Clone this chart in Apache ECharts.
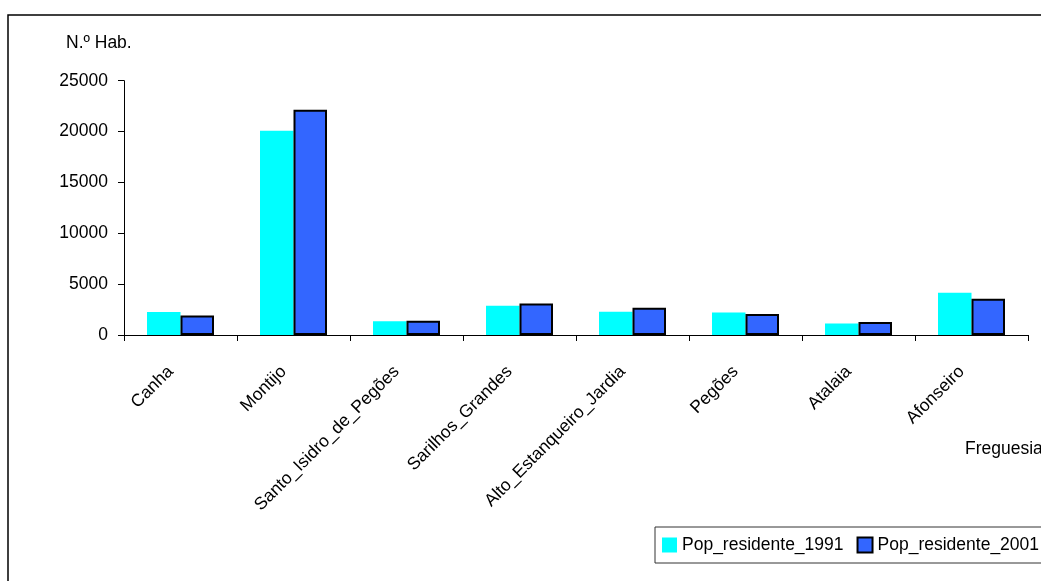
<!DOCTYPE html>
<html>
<head>
<meta charset="utf-8">
<script src="https://cdn.jsdelivr.net/npm/echarts@6/dist/echarts.min.js"></script>
<style>
  html, body { margin: 0; padding: 0; background: #fff; }
  #chart { width: 1041px; height: 581px; }
</style>
</head>
<body>
<div id="chart"></div>
<script>
// Parishes (freguesias) and resident population in 1991 and 2001
const freguesias = ['Canha', 'Montijo', 'Santo_Isidro_de_Pegões', 'Sarilhos_Grandes',
  'Alto_Estanqueiro_Jardia', 'Pegões', 'Atalaia', 'Afonseiro'];
const pop1991 = [2260, 20090, 1340, 2880, 2290, 2220, 1140, 4160];
const pop2001 = [1910, 22150, 1400, 3100, 2680, 2070, 1290, 3560];
const seriesNames = ['Pop_residente_1991', 'Pop_residente_2001'];
const yTitle = 'N.º Hab.';
const xTitle = 'Freguesia';

const FONT = 'Liberation Sans, Arial, sans-serif';
const FS = 17.5;

const chart = echarts.init(document.getElementById('chart'), null, { renderer: 'canvas' });

chart.setOption({
  animation: false,
  backgroundColor: '#fff',
  textStyle: { fontFamily: FONT, color: '#000' },
  grid: { left: 124, right: 13, top: 80.7, bottom: 246, containLabel: false },
  graphic: [
    {
      type: 'rect', silent: true, z: -1,
      shape: { x: 8, y: 15, width: 1200, height: 800 },
      style: { fill: 'none', stroke: '#000', lineWidth: 1.5 }
    },
    {
      type: 'text', left: 66, top: 34,
      style: { text: yTitle, font: FS + 'px ' + FONT, fill: '#000' }
    },
    {
      type: 'text', left: 965, top: 440,
      style: { text: xTitle, font: FS + 'px ' + FONT, fill: '#000' }
    }
  ],
  legend: {
    data: seriesNames,
    left: 655, top: 527,
    width: 420,
    orient: 'horizontal',
    icon: 'rect',
    itemWidth: 15, itemHeight: 15,
    itemGap: 13,
    padding: [9, 12, 9, 7],
    borderColor: '#333', borderWidth: 1,
    textStyle: { fontFamily: FONT, fontSize: FS, color: '#000' }
  },
  xAxis: {
    type: 'category',
    data: freguesias,
    axisLine: { lineStyle: { color: '#000', width: 1 } },
    axisTick: { show: true, length: 6, lineStyle: { color: '#000' } },
    axisLabel: {
      rotate: 45, margin: 24, interval: 0,
      padding: [0, 14, 0, 0],
      fontFamily: FONT, fontSize: FS, color: '#000'
    }
  },
  yAxis: {
    type: 'value',
    min: 0, max: 25000, interval: 5000,
    splitLine: { show: false },
    axisLine: { show: true, lineStyle: { color: '#000', width: 1 } },
    axisTick: { show: true, length: 6, lineStyle: { color: '#000' } },
    axisLabel: {
      margin: 16, fontFamily: FONT, fontSize: FS, color: '#000',
      formatter: v => String(v)
    }
  },
  series: [
    {
      name: seriesNames[0], type: 'bar', data: pop1991,
      barWidth: 33.5, barGap: '0%',
      itemStyle: { color: '#00FFFF' }
    },
    {
      name: seriesNames[1], type: 'bar', data: pop2001,
      barWidth: 33.5, barGap: '0%',
      itemStyle: { color: '#3366FF', borderColor: '#000', borderWidth: 2 }
    }
  ]
});
</script>
</body>
</html>
